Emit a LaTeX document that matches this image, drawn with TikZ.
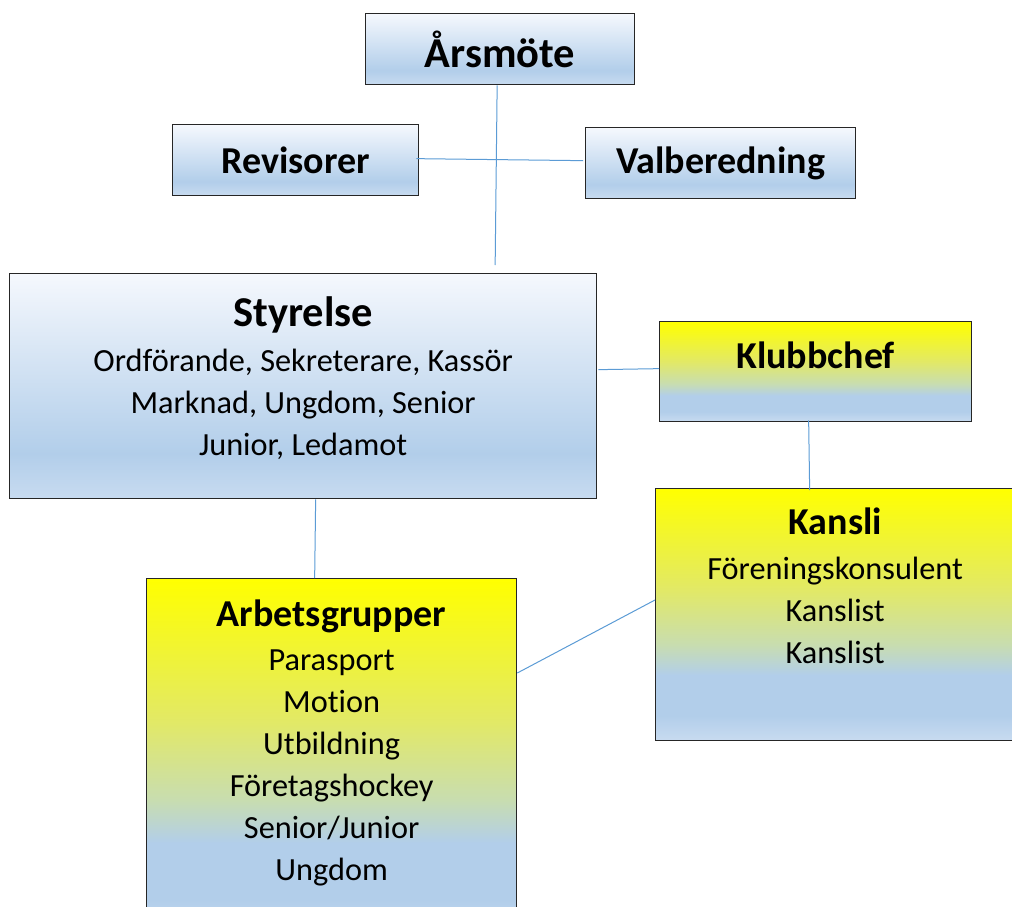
\documentclass[tikz,border=0pt]{standalone}
\usepackage{fontspec}
\setmainfont{Carlito}[Ligatures=NoCommon]
\usetikzlibrary{positioning, calc}
\definecolor{linkblue}{HTML}{5B9BD5}
\definecolor{boxline}{HTML}{262626}
\definecolor{blueTop}{HTML}{F5F8FD}
\definecolor{blueMid}{HTML}{B2CEEA}
\definecolor{blueBot}{HTML}{C8DBF0}
\definecolor{yelTop}{HTML}{FFFF00}
\definecolor{yelMid}{HTML}{E2E966}
\definecolor{yelMix}{HTML}{C8DDB0}
\pgfdeclareverticalshading{bluefill}{100bp}{color(0bp)=(blueBot); color(25bp)=(blueBot); color(35bp)=(blueMid); color(75bp)=(blueTop); color(100bp)=(blueTop)}
\pgfdeclareverticalshading{yellowfill}{100bp}{color(0bp)=(blueBot); color(25bp)=(blueBot); color(30bp)=(blueMid); color(38bp)=(blueMid); color(44bp)=(yelMix); color(55bp)=(yelMid); color(75bp)=(yelTop); color(100bp)=(yelTop)}
\newcommand{\boxtitle}[1]{{\fontsize{38}{42}\selectfont\bfseries #1}}
\newcommand{\bigtitle}[1]{{\fontsize{42.5}{46}\selectfont\bfseries #1}}
\newcommand{\padbelow}[1]{\rule[-#1]{0pt}{0pt}}

\begin{document}
\begin{tikzpicture}[x=1pt, y=-1pt,
  orgbox/.style={rectangle, draw=boxline, line width=1.3pt, anchor=north west, align=center, inner sep=0pt, font=\fontsize{32.3}{42}\selectfont},
  bluebox/.style={orgbox, shading=bluefill},
  yellowbox/.style={orgbox, shading=yellowfill},
  link/.style={draw=linkblue, line width=1pt}
]
  \clip (0,0) rectangle (1012,907);

  % Top level
  \node[bluebox, minimum width=269pt, minimum height=71pt] (arsmote) at (365,13) {\bigtitle{Årsmöte}};
  \node[bluebox, minimum width=246pt, minimum height=71pt] (revisorer) at (172,124) {\boxtitle{Revisorer}};
  \node[bluebox, minimum width=270pt, minimum height=71pt] (valberedning) at (585,127) {\boxtitle{Valberedning}};

  % Board
  \node[bluebox, minimum width=587pt, minimum height=225pt] (styrelse) at (9,273)
    {\bigtitle{Styrelse}\\[3pt] Ordförande, Sekreterare, Kassör\\ Marknad, Ungdom, Senior\\ Junior, Ledamot\padbelow{20pt}};

  % Office
  \node[yellowbox, minimum width=312pt, minimum height=100pt] (klubbchef) at (659,321) {\boxtitle{Klubbchef}\padbelow{32pt}};
  \node[yellowbox, minimum width=359pt, minimum height=252pt] (kansli) at (655,488)
    {\boxtitle{Kansli}\\[3pt] Föreningskonsulent\\ Kanslist\\ Kanslist\padbelow{58pt}};

  % Working groups
  \node[yellowbox, minimum width=370pt, minimum height=357pt] (arbets) at (146,578)
    {\boxtitle{Arbetsgrupper}\\[2pt] Parasport\\ Motion\\ Utbildning\\ Företagshockey\\ Senior/Junior\\ Ungdom\padbelow{34pt}};

  % Lines
  \draw[link] ($(arsmote.south)+(-3,0)$) -- ($(arsmote.south |- styrelse.north)+(-5,-8)$);
  \draw[link] ($(revisorer.east)+(-3,-1.5)$) -- ($(valberedning.west)+(-2,-2.5)$);
  \draw[link] ($(styrelse.east |- klubbchef.west)+(1,-2)$) -- ($(klubbchef.west)+(0,-3)$);
  \draw[link] ($(klubbchef.south)+(-7,-2)$) -- ($(klubbchef.south |- kansli.north)+(-6,2)$);
  \draw[link] ($(styrelse.south)+(12.5,0)$) -- ($(styrelse.south |- arbets.north)+(11.5,0)$);
  \draw[link] ($(arbets.north east)+(0,95)$) -- ($(kansli.north west)+(0,112)$);
\end{tikzpicture}
\end{document}
